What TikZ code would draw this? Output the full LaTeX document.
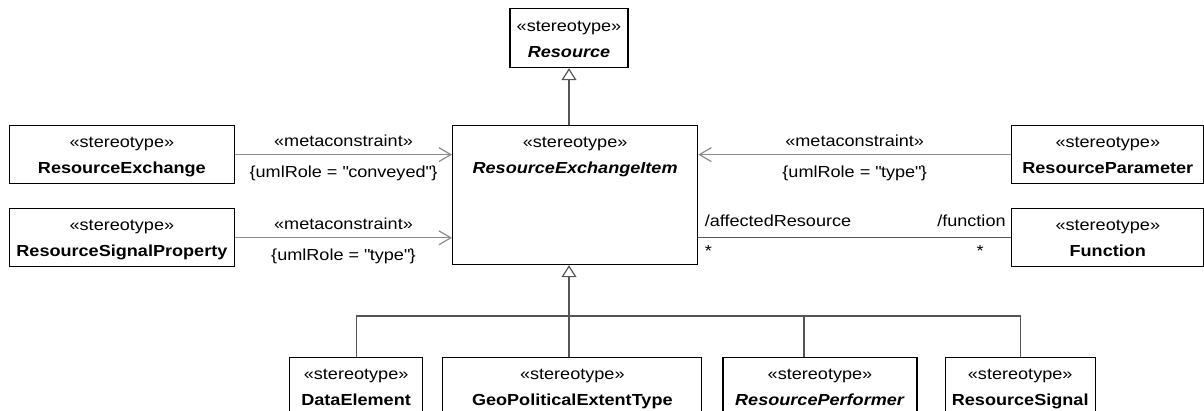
\documentclass[tikz,border=0pt]{standalone}
\usepackage{fontspec}
\setmainfont{Liberation Sans}[FakeStretch=1.13]
\usetikzlibrary{arrows.meta,positioning}
\definecolor{umlline}{HTML}{555555}
\definecolor{umlmeta}{HTML}{8C8C8C}
\tikzset{
  cls/.style   = {draw=black, line width=1.2pt, fill=white, inner sep=0pt, align=center,
                  minimum height=58pt, text height=42pt, text depth=4pt,
                  font=\fontsize{16}{26}\selectfont},
  gen/.style   = {-{Triangle[open, length=12pt, width=15pt]}, draw=umlline, line width=1.2pt},
  tree/.style  = {draw=umlline, line width=1.2pt},
  meta/.style  = {-{Straight Barb[length=12pt, width=14pt]}, draw=umlmeta, line width=1.2pt},
  assoc/.style = {draw=umlline, line width=1.2pt},
  lbl/.style   = {font=\fontsize{16}{19}\selectfont, inner sep=0pt},
}
\newcommand{\stereo}[1]{«stereotype»\\#1}
\newcommand{\qt}[1]{\textquotedbl#1\textquotedbl}

\begin{document}
\begin{tikzpicture}[x=1pt, y=-1pt]
  \useasboundingbox (0,0) rectangle (1204,410);
  \clip (0,0) rectangle (1204,410);
  % central element
  \node[cls, minimum width=245pt, minimum height=139pt, text height=48pt, text depth=91pt,
        anchor=north west] (rei) at (452,125) {\stereo{\textbf{\textit{ResourceExchangeItem}}}};
  \node[cls, minimum width=118pt, minimum height=59pt, anchor=north] (res) at (569,8)
    {\stereo{\textbf{\textit{Resource}}}};
  % side elements
  \node[cls, minimum width=225pt, left=217pt of rei.north west, anchor=north east] (rex)
    {\stereo{\textbf{ResourceExchange}}};
  \node[cls, minimum width=225pt, below=24pt of rex] (rsp) {\stereo{\textbf{ResourceSignalProperty}}};
  \node[cls, minimum width=192pt, right=313pt of rei.north east, anchor=north west] (rpar)
    {\stereo{\textbf{ResourceParameter}}};
  \node[cls, minimum width=192pt, below=24pt of rpar] (fun) {\stereo{\textbf{Function}}};
  % specialisations
  \node[cls, minimum width=133pt, anchor=north west] (dat) at (289,357) {\stereo{\textbf{DataElement}}};
  \node[cls, minimum width=259pt, right=19pt of dat] (geo) {\stereo{\textbf{GeoPoliticalExtentType}}};
  \node[cls, minimum width=194pt, right=20pt of geo] (rperf) {\stereo{\textbf{\textit{ResourcePerformer}}}};
  \node[cls, minimum width=150pt, right=27pt of rperf] (rsig) {\stereo{\textbf{ResourceSignal}}};
  % generalisation
  \draw[gen] (res.south |- rei.north) -- (res.south);
  \draw[gen] (res.south |- geo.north) -- (res.south |- rei.south);
  \coordinate (bus) at (0,316);
  \draw[tree] (dat.north) |- (bus -| rsig.north) -- (rsig.north);
  \draw[tree] ([xshift=-16pt]rperf.north) -- ([xshift=-16pt]rperf.north |- bus);
  % metaconstraints
  \draw[meta] (rex.east) -- (rex.east -| rei.west)
    node[midway, lbl, anchor=base, yshift=8pt] {«metaconstraint»}
    node[midway, lbl, anchor=base, yshift=-23pt] {\{umlRole = \qt{conveyed}\}};
  \draw[meta] (rsp.east) -- (rsp.east -| rei.west)
    node[midway, lbl, anchor=base, yshift=8pt] {«metaconstraint»}
    node[midway, lbl, anchor=base, yshift=-23pt] {\{umlRole = \qt{type}\}};
  \draw[meta] (rpar.west) -- (rpar.west -| rei.east)
    node[midway, lbl, anchor=base, yshift=8pt] {«metaconstraint»}
    node[midway, lbl, anchor=base, yshift=-23pt] {\{umlRole = \qt{type}\}};
  % association
  \draw[assoc] (fun.west) -- (fun.west -| rei.east)
    node[pos=1, lbl, anchor=base west, xshift=6pt, yshift=11pt] {/affectedResource}
    node[pos=1, lbl, anchor=base west, xshift=6pt, yshift=-19pt] {*}
    node[pos=0, lbl, anchor=base east, xshift=-5pt, yshift=11pt] {/function}
    node[pos=0, lbl, anchor=base east, xshift=-27pt, yshift=-19pt] {*};
\end{tikzpicture}
\end{document}
